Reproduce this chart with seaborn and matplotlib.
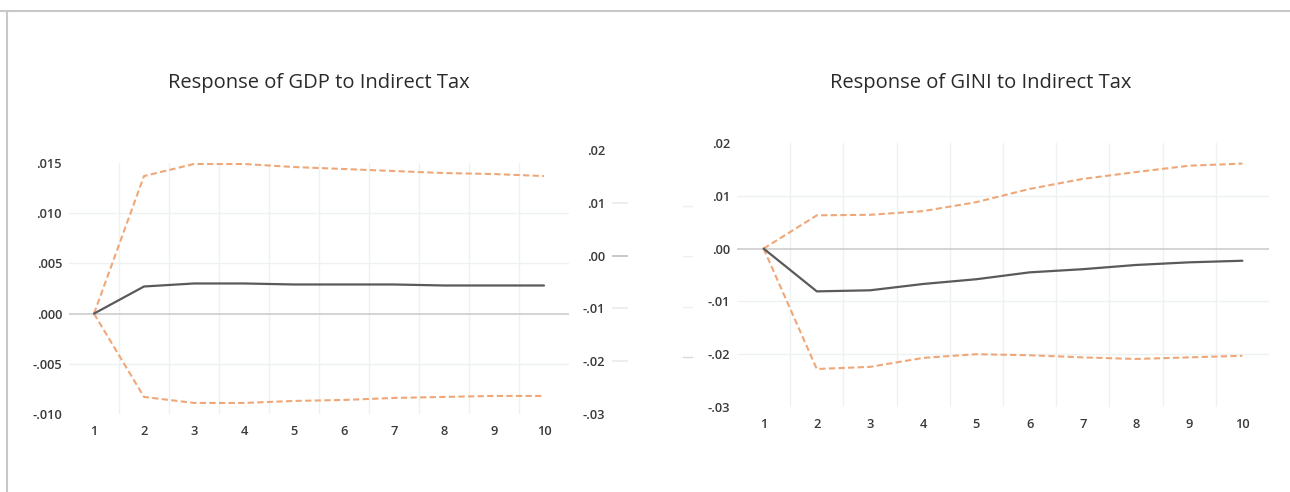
import matplotlib
matplotlib.use("Agg")
import matplotlib.pyplot as plt
import seaborn as sns
import numpy as np
import pandas as pd

# Impulse-response data (periods 1..10)
periods = [1, 2, 3, 4, 5, 6, 7, 8, 9, 10]

gdp_resp = [0.0, 0.0027, 0.0030, 0.0030, 0.0029, 0.0029, 0.0029, 0.0028, 0.0028, 0.0028]
gdp_upper = [0.0, 0.0137, 0.0149, 0.0149, 0.0146, 0.0144, 0.0142, 0.0140, 0.0139, 0.0137]
gdp_lower = [0.0, -0.0083, -0.0089, -0.0089, -0.0087, -0.0086, -0.0084, -0.0083, -0.0082, -0.0082]

gini_resp = [0.0, -0.0081, -0.0079, -0.0067, -0.0058, -0.0045, -0.0039, -0.0031, -0.0026, -0.0023]
gini_upper = [0.0, 0.0063, 0.0064, 0.0071, 0.0088, 0.0113, 0.0132, 0.0145, 0.0157, 0.0161]
gini_lower = [0.0, -0.0228, -0.0224, -0.0207, -0.0200, -0.0202, -0.0206, -0.0209, -0.0206, -0.0203]

gdp_ticks = [-0.010, -0.005, 0.000, 0.005, 0.010, 0.015]
gdp_labels = ["-.010", "-.005", ".000", ".005", ".010", ".015"]
gini_ticks = [-0.03, -0.02, -0.01, 0.00, 0.01, 0.02]
gini_labels = ["-.03", "-.02", "-.01", ".00", ".01", ".02"]

titles = ["Response of GDP to Indirect Tax", "Response of GINI to Indirect Tax"]

sns.set_theme(style="white")
plt.rcParams["font.family"] = ["Open Sans", "DejaVu Sans"]

LINE = "#5a5a5a"
BAND = "#efa778"
GRID = "#eef1f1"
ZERO = "#c9c9c9"
TICK = "#3a3a3a"
TICK_SIZE = 9.3

fig = plt.figure(figsize=(12.9, 4.92), dpi=100)

# thin frame along the top and left edge of the figure
fig.add_artist(plt.Line2D([0, 1], [1 - 11 / 492, 1 - 11 / 492], color="#c8c8c8", lw=1.5))
fig.add_artist(plt.Line2D([7 / 1290, 7 / 1290], [0, 1 - 11 / 492], color="#c8c8c8", lw=1.5))


def draw_panel(ax, resp, upper, lower, ticks, labels, xlab_pad):
    df = pd.DataFrame({"period": periods, "resp": resp, "upper": upper, "lower": lower})
    ax.set_xlim(0.5, 10.5)
    ax.set_ylim(ticks[0], ticks[-1])
    for x in np.arange(1.5, 10.0, 1.0):
        ax.axvline(x, color=GRID, lw=1.0, zorder=0)
    for t in ticks[1:-1]:
        ax.axhline(t, color=ZERO if t == 0 else GRID, lw=1.0 if t != 0 else 1.1, zorder=0)
    sns.lineplot(data=df, x="period", y="upper", ax=ax, color=BAND, lw=1.5,
                 linestyle=(0, (3, 1.6)), zorder=3)
    sns.lineplot(data=df, x="period", y="lower", ax=ax, color=BAND, lw=1.5,
                 linestyle=(0, (3, 1.6)), zorder=3)
    sns.lineplot(data=df, x="period", y="resp", ax=ax, color=LINE, lw=1.6, zorder=4)
    ax.set_xticks(periods)
    ax.set_xticklabels([str(p) for p in periods])
    ax.set_yticks(ticks)
    ax.set_yticklabels(labels)
    ax.tick_params(axis="both", length=0, labelsize=TICK_SIZE, colors=TICK)
    ax.tick_params(axis="x", pad=xlab_pad)
    ax.tick_params(axis="y", pad=5)
    for lab in ax.get_xticklabels() + ax.get_yticklabels():
        lab.set_fontweight("semibold")
    ax.set_xlabel("")
    ax.set_ylabel("")
    for s in ax.spines.values():
        s.set_visible(False)
    ax.patch.set_alpha(0)


ax1 = fig.add_axes([69 / 1290, 78 / 492, 500 / 1290, 251 / 492])
draw_panel(ax1, gdp_resp, gdp_upper, gdp_lower, gdp_ticks, gdp_labels, 8)

ax2 = fig.add_axes([737 / 1290, 85 / 492, 532 / 1290, 264 / 492])
draw_panel(ax2, gini_resp, gini_upper, gini_lower, gini_ticks, gini_labels, 8)

# narrow secondary scale between the two panels
ax3 = fig.add_axes([612 / 1290, 78 / 492, 16 / 1290, 264 / 492])
ax3.set_xlim(0, 1)
ax3.set_ylim(gini_ticks[0], gini_ticks[-1])
for t in gini_ticks[1:-1]:
    ax3.axhline(t, color="#b8b8b8" if t == 0 else "#e6e9e9", lw=1.1)
ax3.set_xticks([])
ax3.set_yticks(gini_ticks)
ax3.set_yticklabels(gini_labels)
ax3.tick_params(axis="y", length=0, labelsize=TICK_SIZE, colors=TICK, pad=5)
for lab in ax3.get_yticklabels():
    lab.set_fontweight("semibold")
for s in ax3.spines.values():
    s.set_visible(False)
ax3.patch.set_alpha(0)

# faint short marks left of the GINI panel
ax4 = fig.add_axes([683 / 1290, 85 / 492, 10 / 1290, 251 / 492])
ax4.set_xlim(0, 1)
ax4.set_ylim(gdp_ticks[0], gdp_ticks[-1])
for t in gdp_ticks[1:-1]:
    ax4.axhline(t, color="#d6d9d9" if t == -0.005 else "#eef0f0", lw=1.0)
ax4.set_xticks([])
ax4.set_yticks([])
for s in ax4.spines.values():
    s.set_visible(False)
ax4.patch.set_alpha(0)

fig.text(319 / 1290, 1 - 83 / 492, titles[0], ha="center", va="center",
         fontsize=14.5, color="#2a2a2a")
fig.text(981 / 1290, 1 - 83 / 492, titles[1], ha="center", va="center",
         fontsize=14.5, color="#2a2a2a")

fig.savefig("out.png", dpi=100)
